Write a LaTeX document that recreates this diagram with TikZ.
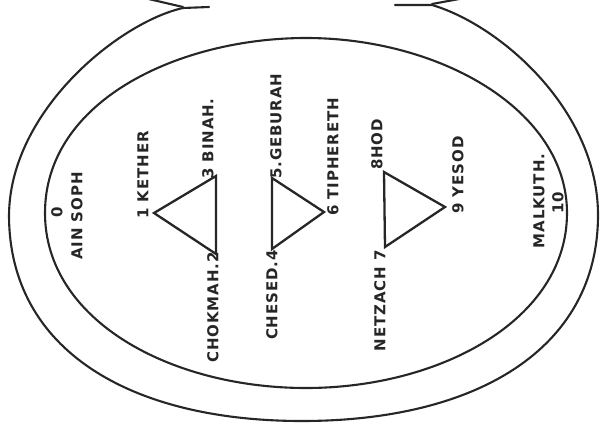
\documentclass[tikz,border=0pt]{standalone}
\usepackage{fontspec}
\newfontfamily\labfont{DejaVu Sans Bold}[LetterSpace=6.0]
\begin{document}
\begin{tikzpicture}[x=1pt,y=-1pt,
  ring/.style={line width=2.1pt,draw=black!85,line join=round,line cap=round},
  tri/.style={line width=2.3pt,draw=black!85,line join=miter},
  lab/.style={font=\labfont\fontsize{15pt}{17pt}\selectfont,text=black!85,rotate=90,inner sep=0pt}]
\useasboundingbox (0,0) rectangle (602,428);
\clip (0,0) rectangle (602,428);
% outer ring with open notch
\draw[ring] (209,7) -- (183,8) .. controls (120,22) and (10,110) .. (9,215)
  .. controls (9,350) and (130,421) .. (302,421)
  .. controls (475,421) and (598,350) .. (598,215)
  .. controls (598,110) and (500,25) .. (432,5) -- (395,5);
\draw[ring] (183,7) -- (140,-3);
\draw[ring] (432,4) -- (470,-3);
% inner ring
\draw[ring] (45,213) .. controls (45,100) and (180,38) .. (306,38)
  .. controls (440,38) and (567,110) .. (567,213)
  .. controls (567,320) and (440,388) .. (306,388)
  .. controls (170,388) and (45,320) .. cycle;
% triangles
\coordinate (kether) at (154,213);
\coordinate (binah) at (216,176);
\coordinate (chokmah) at (216,254);
\coordinate (geburah) at (272,178);
\coordinate (chesed) at (272,249);
\coordinate (tiphereth) at (324,212);
\coordinate (hod) at (384,172);
\coordinate (netzach) at (385,247);
\coordinate (yesod) at (445,207);
\draw[tri] (kether) -- (binah) -- (chokmah) -- cycle;
\draw[tri] (geburah) -- (chesed) -- (tiphereth) -- cycle;
\draw[tri] (hod) -- (netzach) -- (yesod) -- cycle;
% labels
\node[lab] (zero) at (57,212) {0};
\node[lab] (ainsoph) at (77,216) {AIN SOPH};
\node[lab,anchor=west] (lkether) at (143,219) {1 KETHER};
\node[lab,anchor=west] (lbinah) at (208,179) {3 BINAH.};
\node[lab,anchor=east] (lchokmah) at (213,252) {CHOKMAH.2};
\node[lab,anchor=east] (lchesed) at (272,250) {CHESED.4};
\node[lab,anchor=west] (lgeburah) at (276,179) {5.GEBURAH};
\node[lab,anchor=west] (ltiphereth) at (333,216) {6 TIPHERETH};
\node[lab,anchor=east] (lnetzach) at (380,250) {NETZACH 7};
\node[lab,anchor=west] (lhod) at (377,170) {8HOD};
\node[lab,anchor=west] (lyesod) at (458,214) {9 YESOD};
\node[lab] (lmalkuth) at (539,201) {MALKUTH.};
\node[lab] (lten) at (558,203) {10};
\end{tikzpicture}
\end{document}
